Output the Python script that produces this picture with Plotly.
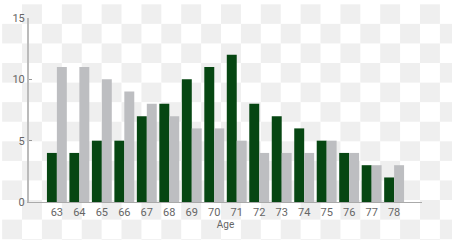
import plotly.graph_objects as go

ages = ["63", "64", "65", "66", "67", "68", "69", "70", "71", "72", "73", "74", "75", "76", "77", "78"]
veterans = [4, 4, 5, 5, 7, 8, 10, 11, 12, 8, 7, 6, 5, 4, 3, 2]
nonveterans = [11, 11, 10, 9, 8, 7, 6, 6, 5, 4, 4, 4, 5, 4, 3, 3]
y_ticks = [0, 5, 10, 15]

GREEN = "#064612"
GRAY = "#bdbec1"
FONT = "Liberation Sans Narrow, Roboto, sans-serif"

W, H = 452, 240
L, R, T, B = 27, 30, 14, 38
pw, ph = W - L - R, H - T - B

fig = go.Figure()
fig.add_trace(go.Bar(x=ages, y=veterans, name="Veterans", marker_color=GREEN, marker_line_width=0))
fig.add_trace(go.Bar(x=ages, y=nonveterans, name="Nonveterans", marker_color=GRAY, marker_line_width=0))

# checkerboard background (transparent-image look)
shapes = []
sq = 20
for i in range(W // sq + 1):
    for j in range(H // sq + 1):
        if (i + j) % 2 == 1:
            x0, x1 = i * sq, (i + 1) * sq
            y0, y1 = j * sq, (j + 1) * sq
            shapes.append(dict(
                type="rect", xref="paper", yref="paper", layer="below",
                x0=(x0 - L) / pw, x1=(x1 - L) / pw,
                y0=(H - B - y1) / ph, y1=(H - B - y0) / ph,
                fillcolor="#efefef", line_width=0))

fig.update_layout(
    width=W, height=H,
    margin=dict(l=L, r=R, t=T, b=B),
    paper_bgcolor="white", plot_bgcolor="rgba(0,0,0,0)",
    barmode="group", bargap=0.115, bargroupgap=0,
    showlegend=False,
    font=dict(family=FONT, size=11, color="#666"),
    shapes=shapes,
    xaxis=dict(
        type="category", range=[-1.24, 16.24],
        showline=True, linecolor="#aaa", linewidth=1,
        ticks="", showgrid=False, zeroline=False,
        tickfont=dict(size=11, color="#666"),
        title=dict(text="Age", font=dict(size=10, color="#666"), standoff=2),
    ),
    yaxis=dict(
        range=[0, 15], tickvals=y_ticks,
        showline=True, linecolor="#bbb", linewidth=2,
        ticks="inside", ticklen=3, tickcolor="#999",
        showgrid=False, zeroline=False,
        tickfont=dict(size=11, color="#666"),
    ),
    annotations=[
        dict(x="71", y=12, text="<b>Veterans</b>", showarrow=False, xshift=-4, yshift=1,
             yanchor="bottom", font=dict(size=10, color="#2c6a3a", family=FONT)),
        dict(x="78", y=3, text="Nonveterans", showarrow=False, xshift=6, yshift=2,
             yanchor="bottom", font=dict(size=10, color="#888", family=FONT)),
    ],
)

fig.write_html("out.html")
